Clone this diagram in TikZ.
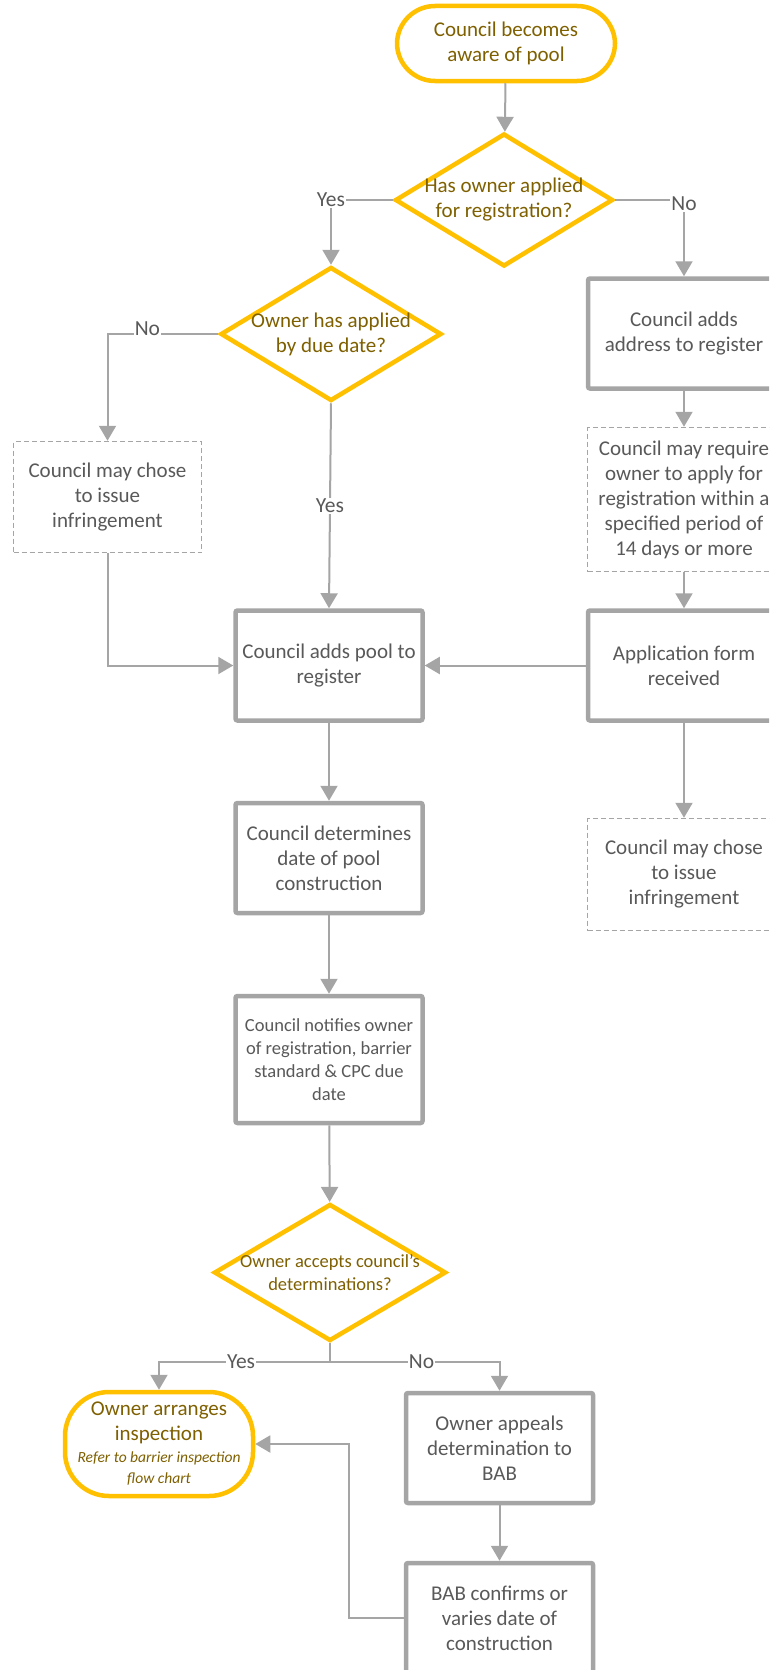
\documentclass[tikz,border=0pt]{standalone}
\usepackage{fontspec}
\setmainfont{Carlito}
\usetikzlibrary{arrows.meta,shapes.geometric,positioning,calc}
\definecolor{linegray}{HTML}{A5A5A5}
\definecolor{txtgray}{HTML}{595959}
\definecolor{gold}{HTML}{FFC000}
\definecolor{goldtxt}{HTML}{7F6000}
\newcommand{\refnote}[1]{{\itshape\fontsize{15.5}{19}\selectfont #1}}
\tikzset{
	procbox/.style={draw=linegray, line width=4.5pt, rounded corners=2pt, fill=white, text=txtgray, align=center, inner sep=0pt, minimum width=187pt, minimum height=110pt, font=\fontsize{21}{25}\selectfont},
	optbox/.style={draw=linegray, line width=1.5pt, dash pattern=on 5pt off 3pt, fill=white, text=txtgray, align=center, inner sep=0pt, font=\fontsize{21}{25}\selectfont},
	termbox/.style={draw=gold, line width=4.5pt, fill=white, text=goldtxt, align=center, inner sep=0pt, font=\fontsize{21}{25}\selectfont},
	decbox/.style={diamond, draw=gold, line width=4.5pt, fill=white, inner sep=0pt},
	dectxt/.style={text=goldtxt, align=center, inner sep=0pt, font=\fontsize{21}{25}\selectfont},
	conn/.style={draw=linegray, line width=2pt, -{Triangle[length=15pt,width=17pt]}},
	lbl/.style={fill=white, text=txtgray, inner sep=1pt, font=\fontsize{21.5}{25}\selectfont},
}
\begin{document}
\begin{tikzpicture}[x=1pt,y=-1pt]
	\useasboundingbox (0,0) rectangle (769,1670);
	\clip (0,0) rectangle (769,1670);
	\node[termbox, rounded corners=38pt, minimum width=218pt, minimum height=75pt] (aware) at (506,43.5) {Council becomes\\aware of pool};
	\node[decbox, minimum width=218pt, minimum height=133pt, label={[dectxt]center:{Has owner applied\\for registration?}}] (applied) at (504,200) {};
	\node[procbox, minimum width=192pt] (addaddr) at (684,333.5) {Council adds\\address to register};
	\node[optbox, minimum width=193pt, minimum height=144pt] (require) at (684,499.5) {Council may require\\owner to apply for\\registration within a\\specified period of\\14 days or more};
	\node[procbox, minimum width=192pt] (formrec) at (684,665.5) {Application form\\received};
	\node[optbox, minimum width=193pt, minimum height=112pt] (infrright) at (684,874.5) {Council may chose\\to issue\\infringement};
	\node[decbox, minimum width=221pt, minimum height=134pt, label={[dectxt]center:{Owner has applied\\by due date?}}] (duedate) at (331,334) {};
	\node[optbox, minimum width=188pt, minimum height=111pt] (infrleft) at (107.5,497) {Council may chose\\to issue\\infringement};
	\node[procbox] (addpool) at (329,665.5) {Council adds pool to\\register};
	\node[procbox] (dateconst) at (329,858) {Council determines\\date of pool\\construction};
	\node[procbox, minimum height=127pt, font=\fontsize{18.5}{23}\selectfont] (notify) at (329,1059.5) {Council notifies owner\\of registration, barrier\\standard \& CPC due\\date};
	\node[decbox, minimum width=232pt, minimum height=137pt, label={[dectxt, font=\fontsize{18.5}{23}\selectfont]center:{Owner accepts council's\\determinations?}}] (accepts) at (330,1272.5) {};
	\node[termbox, rounded corners=44pt, minimum width=188pt, minimum height=104pt] (inspect) at (159,1444) {Owner arranges\\inspection\\[-3pt]\refnote{Refer to barrier inspection}\\[-4pt]\refnote{flow chart}};
	\node[procbox] (appeal) at (499.5,1448) {Owner appeals\\determination to\\BAB};
	\node[procbox] (babconf) at (499.5,1618) {BAB confirms or\\varies date of\\construction};
	\coordinate (split) at (330,1362);
	\draw[conn] (aware) -- (applied);
	\draw[conn] (applied.west) -| node[lbl, pos=0.5]{Yes} (duedate.north);
	\draw[conn] (applied.east) -| node[lbl, pos=0.5, yshift=-4pt]{No} (addaddr.north);
	\draw[conn] (duedate.west) -| node[lbl, pos=0.32, yshift=5pt]{No} (infrleft.north);
	\draw[conn] (duedate.south) -- node[lbl]{Yes} (addpool.north);
	\draw[conn] (infrleft.south) |- (addpool.west);
	\draw[conn] (addaddr) -- (require);
	\draw[conn] (require) -- (formrec);
	\draw[conn] (formrec.west) -- (addpool.east);
	\draw[conn] (formrec) -- (infrright);
	\draw[conn] (addpool) -- (dateconst);
	\draw[conn] (dateconst) -- (notify);
	\draw[conn] (notify) -- (accepts);
	\draw[linegray, line width=2pt] (accepts.south) -- (split);
	\draw[conn] (split) -| node[lbl, pos=0.26]{Yes} (inspect.north);
	\draw[conn] (split) -| node[lbl, pos=0.27]{No} (appeal.north);
	\draw[conn] (appeal) -- (babconf);
	\draw[conn] (babconf.west) -- ++(-55,0) |- (inspect.east);
\end{tikzpicture}
\end{document}
